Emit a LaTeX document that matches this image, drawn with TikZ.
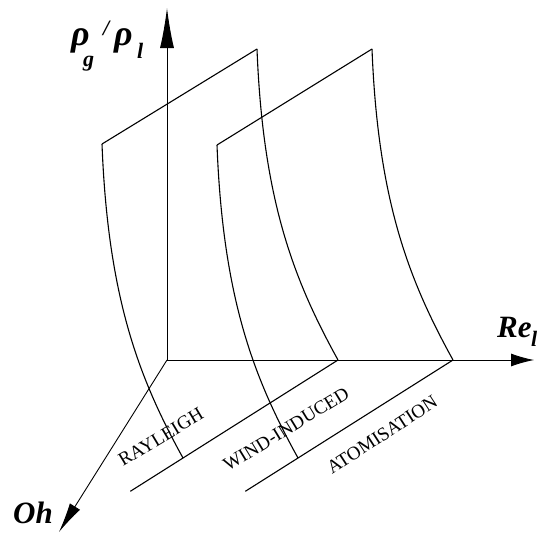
\documentclass[tikz,border=0pt]{standalone}
\usepackage{fontspec}
\setmainfont{Liberation Serif}
\usetikzlibrary{arrows.meta,calc}
\begin{document}
\begin{tikzpicture}[x=1pt,y=-1pt,
  axis/.style={line width=0.9pt},
  edge/.style={line width=1.1pt},
  regime/.style={font=\fontsize{19}{19}\selectfont, inner sep=0pt, anchor=base west},
  axlabel/.style={font=\bfseries\itshape\fontsize{31}{31}\selectfont, inner sep=0pt, anchor=base west},
  rholabel/.style={font=\bfseries\itshape\fontsize{36}{36}\selectfont, inner sep=0pt, anchor=base west},
  sublabel/.style={font=\bfseries\itshape\fontsize{22}{22}\selectfont, inner sep=0pt, anchor=base west}]
\useasboundingbox (0,0) rectangle (538,533);
% axes
\coordinate (O) at (167,360);
\coordinate (ytip) at (167,8);
\coordinate (xtip) at (534,360);
\coordinate (ztip) at (59,532);
\draw[axis,-{Latex[length=40pt,width=14pt]}] (O) -- (ytip);
\draw[axis,-{Latex[length=23pt,width=13pt]}] (O) -- (xtip);
\draw[axis,-{Latex[length=30pt,width=12pt]}] (O) -- (ztip);
% surface 1 (Rayleigh / wind-induced boundary)
\coordinate (a1) at (102,144);
\coordinate (b1) at (257,49);
\coordinate (c1) at (338,360);
\coordinate (d1) at (183,458);
\draw[edge] (a1) .. controls (108,300) and (140,380) .. (d1);
\draw[edge] (b1) .. controls (263,203) and (295,282) .. (c1);
\draw[edge] (a1) -- (b1);
\draw[edge] (c1) -- ($(c1)!1.34!(d1)$);
% surface 2 (wind-induced / atomisation boundary)
\coordinate (a2) at (217,145);
\coordinate (b2) at (372,49);
\coordinate (c2) at (453,360);
\coordinate (d2) at (298,458);
\draw[edge] (a2) .. controls (223,301) and (255,380) .. (d2);
\draw[edge] (b2) .. controls (378,203) and (410,282) .. (c2);
\draw[edge] (a2) -- (b2);
\draw[edge] (c2) -- ($(c2)!1.34!(d2)$);
% regime labels
\node[regime, rotate=31] (ray) at (123,467) {RAYLEIGH};
\node[regime, rotate=31.5] (wind) at (228,472) {WIND-INDUCED};
\node[regime, rotate=33] (atom) at (332,475) {ATOMISATION};
% axis labels
\node[rholabel] (rho1) at (71,45) {ρ};
\node[sublabel] (g) at (83,66) {g};
\node[sublabel] (slash) at (103,35) {/};
\node[rholabel] (rho2) at (114,45) {ρ};
\node[sublabel] (l1) at (137,58) {l};
\node[axlabel] (re) at (497,337) {Re};
\node[sublabel] (l2) at (531,346) {l};
\node[axlabel] (oh) at (13,523) {Oh};
\end{tikzpicture}
\end{document}
